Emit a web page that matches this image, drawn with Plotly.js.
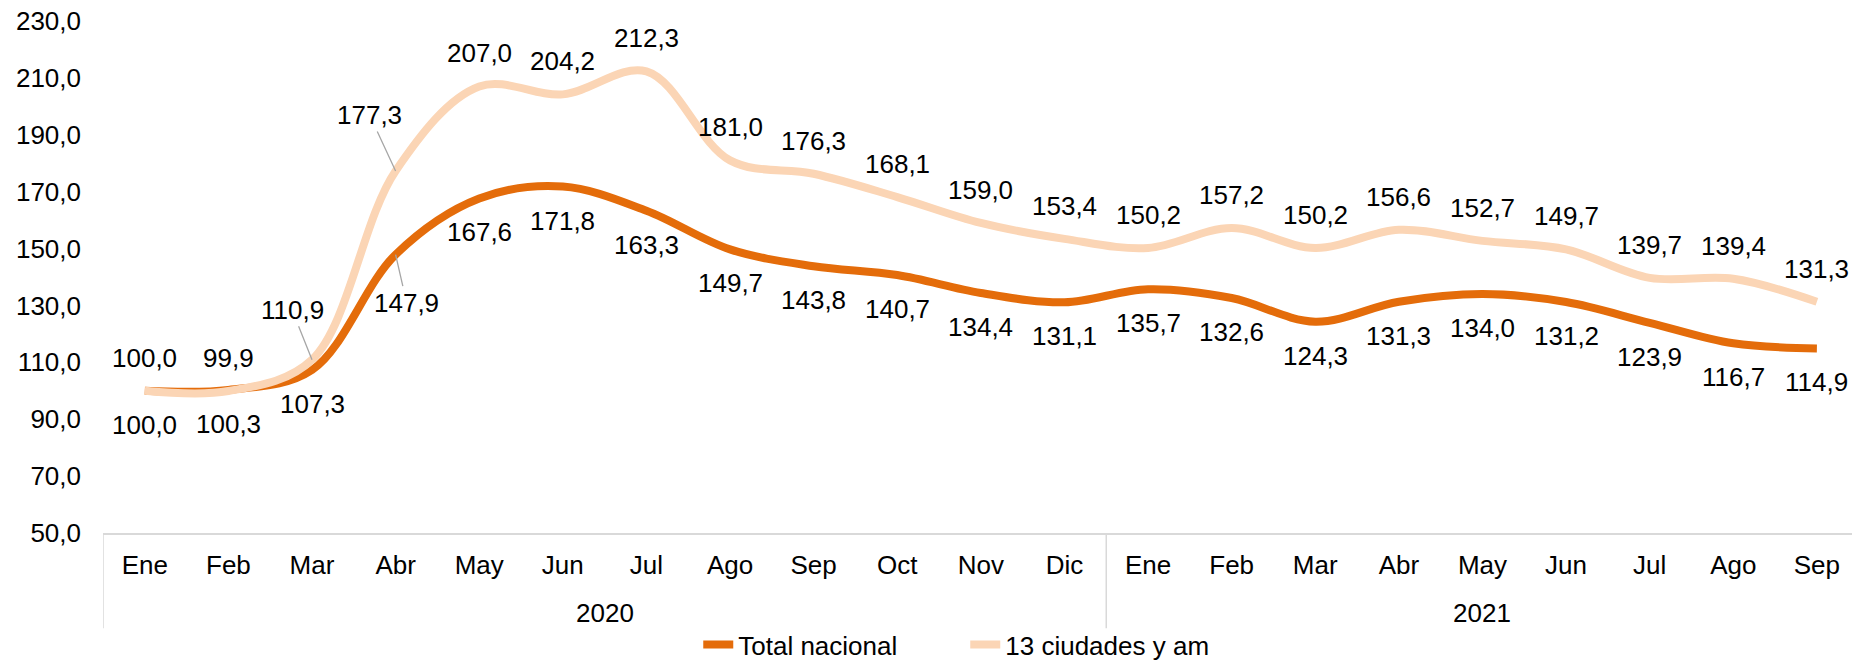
<!DOCTYPE html>
<html>
<head>
<meta charset="utf-8">
<script src="https://cdn.plot.ly/plotly-3.0.1.min.js"></script>
<style>
html,body{margin:0;padding:0;background:#fff;}
#chart{width:1852px;height:664px;}
</style>
</head>
<body>
<div id="chart"></div>
<script>
// ---- Data ----
const months = ['Ene','Feb','Mar','Abr','May','Jun','Jul','Ago','Sep','Oct','Nov','Dic',
                'Ene','Feb','Mar','Abr','May','Jun','Jul','Ago','Sep'];
const years = ['2020','2020','2020','2020','2020','2020','2020','2020','2020','2020','2020','2020',
               '2021','2021','2021','2021','2021','2021','2021','2021','2021'];
const totalNacional = [100.0,100.3,107.3,147.9,167.6,171.8,163.3,149.7,143.8,140.7,134.4,131.1,
                       135.7,132.6,124.3,131.3,134.0,131.2,123.9,116.7,114.9];
const ciudades13 = [100.0,99.9,110.9,177.3,207.0,204.2,212.3,181.0,176.3,168.1,159.0,153.4,
                    150.2,157.2,150.2,156.6,152.7,149.7,139.7,139.4,131.3];
const seriesNames = ['Total nacional','13 ciudades y am'];
const yTicks = [50,70,90,110,130,150,170,190,210,230];

// ---- Styling ----
const FONT = 'Liberation Sans, Arial, sans-serif';
const FS = 26;
const DARK = '#E46C0A';
const LIGHT = '#FBD5B5';

const idx = months.map((m,i)=>i);
const fmt = v => v.toFixed(1).replace('.', ',');

const traces = [
  {x: idx, y: totalNacional, name: seriesNames[0], type:'scatter', mode:'lines',
   line:{color:DARK, width:8, shape:'spline', smoothing:1}, hoverinfo:'skip'},
  {x: idx, y: ciudades13, name: seriesNames[1], type:'scatter', mode:'lines',
   line:{color:LIGHT, width:8, shape:'spline', smoothing:1}, hoverinfo:'skip'}
];

// leader-line labels (offsets in px)
const leaderC = {2:[-20,-50], 3:[-26,-56]};
const leaderT = {3:[11,48]};

const annotations = [];
idx.forEach(i=>{
  const lc = leaderC[i];
  if (lc) {
    annotations.push({x:i, y:ciudades13[i], xref:'x', yref:'y', text:fmt(ciudades13[i]),
      showarrow:true, arrowhead:0, arrowwidth:1.3, arrowcolor:'#A6A6A6', standoff:0,
      ax:lc[0], ay:lc[1], font:{family:FONT,size:FS,color:'#000'}});
  } else {
    annotations.push({x:i, y:ciudades13[i], xref:'x', yref:'y', text:fmt(ciudades13[i]),
      showarrow:false, yshift:33, font:{family:FONT,size:FS,color:'#000'}});
  }
  const lt = leaderT[i];
  if (lt) {
    annotations.push({x:i, y:totalNacional[i], xref:'x', yref:'y', text:fmt(totalNacional[i]),
      showarrow:true, arrowhead:0, arrowwidth:1.3, arrowcolor:'#A6A6A6', standoff:0,
      ax:lt[0], ay:lt[1], font:{family:FONT,size:FS,color:'#000'}});
  } else {
    annotations.push({x:i, y:totalNacional[i], xref:'x', yref:'y', text:fmt(totalNacional[i]),
      showarrow:false, yshift:-34, font:{family:FONT,size:FS,color:'#000'}});
  }
});

// year group labels and dividers
const groups = [];
years.forEach((yv,i)=>{
  let g = groups.find(o=>o.year===yv);
  if (!g) { g = {year:yv, first:i, last:i}; groups.push(g); }
  g.last = i;
});
const shapes = [];
groups.forEach(g=>{
  annotations.push({x:(g.first+g.last)/2, y:-0.156, xref:'x', yref:'paper', text:g.year,
    showarrow:false, yanchor:'middle', font:{family:FONT,size:FS,color:'#000'}});
  shapes.push({type:'line', xref:'x', yref:'paper', x0:g.first-0.5, x1:g.first-0.5,
    y0:0, y1:-0.186, line:{color:'#D9D9D9', width:1.5}});
});

const layout = {
  width:1852, height:664,
  margin:{l:103, r:0, t:21, b:131, autoexpand:false},
  paper_bgcolor:'#fff', plot_bgcolor:'#fff',
  separators:', ',
  showlegend:true,
  legend:{orientation:'h', x:0.493, xanchor:'center', y:-0.218, yanchor:'middle',
          font:{family:FONT, size:FS, color:'#000'}, bgcolor:'rgba(0,0,0,0)',
          entrywidth:222, entrywidthmode:'pixels'},
  xaxis:{range:[-0.5, 20.42], tickmode:'array', tickvals:idx, ticktext:months,
         showgrid:false, zeroline:false, showline:true, linecolor:'#D9D9D9', linewidth:1.5,
         ticks:'', ticklabelstandoff:8, tickangle:0, automargin:false,
         tickfont:{family:FONT, size:FS, color:'#000'}, fixedrange:true},
  yaxis:{range:[50,230], tickmode:'array', tickvals:yTicks, tickformat:'.1f',
         showgrid:false, zeroline:false, showline:false, ticks:'', ticklabelstandoff:21,
         automargin:false,
         tickfont:{family:FONT, size:FS, color:'#000'}, fixedrange:true},
  annotations: annotations,
  shapes: shapes,
  hovermode:false
};

Plotly.newPlot('chart', traces, layout, {displayModeBar:false, staticPlot:true});
</script>
</body>
</html>
